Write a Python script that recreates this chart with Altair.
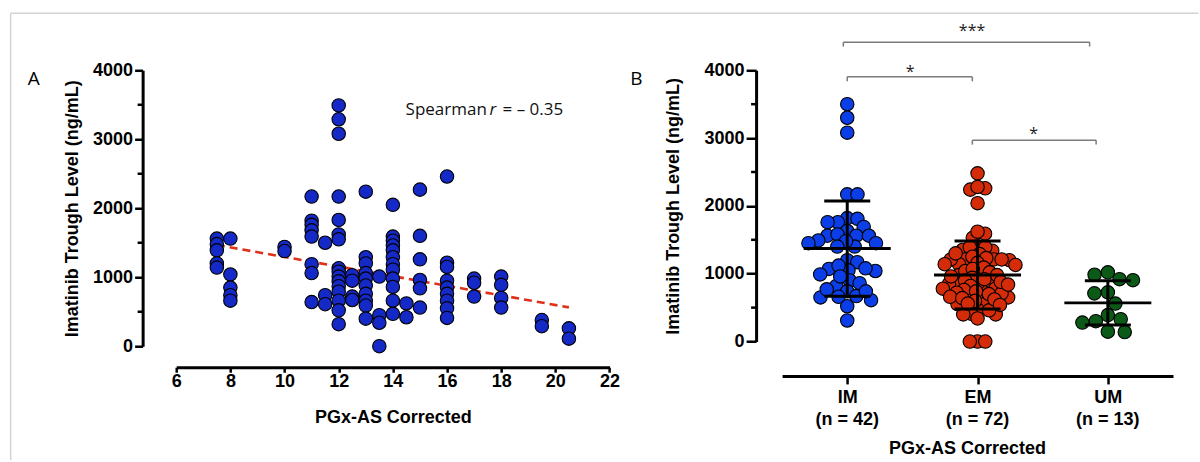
import math
import altair as alt
import pandas as pd

FONT = "Liberation Sans"
TXT = "Open Sans"

# ---------------- Panel A: PGx-AS score vs. trough level ----------------
score_cols = [7.5, 8, 10, 11, 11.5, 12, 12.5, 13, 13.5, 14, 14.5, 15, 16, 17, 18, 19.5, 20.5]
levels_by_score = [
    [1560, 1480, 1390, 1200, 1140],
    [1560, 1040, 850, 740, 660],
    [1440, 1380],
    [2170, 1820, 1760, 1680, 1590, 1190, 1060, 640],
    [1500, 740, 610],
    [3490, 3290, 3080, 2170, 1830, 1620, 1550, 1130, 1080, 1010, 940, 870, 790, 660, 520, 320],
    [1030, 950, 720, 670],
    [2240, 1290, 1200, 1060, 980, 880, 760, 660, 590, 400],
    [1010, 450, 340, 0],
    [2050, 1590, 1530, 1460, 1390, 1290, 1190, 1110, 980, 860, 660, 470],
    [620, 420],
    [2270, 1600, 1260, 960, 840, 560],
    [2460, 1210, 1150, 950, 850, 760, 660, 550, 410],
    [980, 920, 720],
    [1010, 890, 700, 560],
    [380, 290],
    [260, 110],
]
fit_x = [7.5, 20.5]
fit_y = [1468, 563]
spearman_text = ["Spearman", "r", "= \u2013 0.35"]

# ---------------- Panel B: phenotype groups ----------------
groups = ["IM", "EM", "UM"]
im_levels = [3500, 3300, 3080, 2170, 2170, 1820, 1810, 1760, 1760, 1630, 1690,
             1560, 1560, 1560, 1580, 1450, 1400, 1480, 1490, 1400, 1450, 1200,
             1170, 1070, 1040, 990, 1050, 1080, 900, 820, 860, 740, 670, 650,
             610, 660, 740, 770, 520, 310, 1120, 960]
em_levels = [2480, 2260, 2240, 2280, 2040, 1590, 1530, 1620, 1350, 1400, 1390,
             1340, 1390, 1210, 1290, 1210, 1250, 1140, 1200, 1210, 1210, 1140,
             1000, 980, 1040, 850, 780, 860, 880, 780, 850, 680, 650, 660, 710,
             560, 470, 410, 400, 340, 400, 460, 550, 0, 0, 0,
             1300, 1230, 1160, 1130, 1090, 1070, 1020, 980, 960, 940, 920, 900,
             880, 840, 820, 780, 760, 740, 720, 700, 660, 640, 620, 600, 560, 540]
um_levels = [1020, 985, 920, 905, 725, 710, 560, 390, 330, 300, 280, 145, 140]
group_colors = ["#0b3ee6", "#d42b08", "#0b5a18"]

# significance brackets (group units / ng/mL)
br_left = [0.97, 1.0, 1.96]
br_right = [2.86, 1.96, 2.91]
br_height = [4415, 3903, 2969]
br_label = ["***", "*", "*"]
br_label_x = [1.958, 1.482, 2.43]
br_label_y = [4499, 3897, 2987]

y_ticks = [0, 1000, 2000, 3000, 4000]
y_minor = [500, 1500, 2500, 3500]
x_ticks_a = [6, 8, 10, 12, 14, 16, 18, 20, 22]

# ---------------- layout ----------------
A_W, A_H = 433.4, 276
B_W, B_H = 391, 271.3
A_YOFF, A_XOFF = 33.6, 21
B_YOFF, B_XOFF = 26, 34.4
DOT = 180

axis_style = dict(
    labelFont=FONT, labelFontWeight="bold", labelFontSize=18, labelColor="black",
    titleFont=FONT, titleFontWeight="bold", titleFontSize=18, titleColor="black",
    domainColor="black", domainWidth=3, tickColor="black", tickWidth=2.5,
    grid=False, labelFlush=False, labelOverlap=False,
)

ax_a_x = alt.Axis(values=x_ticks_a, format="d", title="PGx-AS Corrected",
                  offset=A_XOFF, tickSize=5, labelPadding=0,
                  titleY=50, titleBaseline="middle", **axis_style)
ax_a_y = alt.Axis(values=y_ticks, format="d", title="Imatinib Trough Level (ng/mL)",
                  offset=A_YOFF, tickSize=8, labelPadding=2,
                  titleX=-70, titleBaseline="middle", **axis_style)
sx_a = alt.Scale(domain=[6, 22], nice=False, zero=False)
sy = alt.Scale(domain=[0, 4000], nice=False)


def XA(f):
    return alt.X(f, type="quantitative", scale=sx_a, axis=ax_a_x)


def YA(f):
    return alt.Y(f, type="quantitative", scale=sy, axis=ax_a_y)


rows = [(s, v) for s, vs in zip(score_cols, levels_by_score) for v in vs]
df_a = pd.DataFrame(rows, columns=["x", "y"])
df_fit = pd.DataFrame({"x": fit_x, "y": fit_y})
one = pd.DataFrame({"k": [0]})

border_color = "#d3d3d3"
border_left = alt.Chart(one).mark_rule(color=border_color, strokeWidth=1.5).encode(
    x=alt.value(10 - 175.6), y=alt.value(13 - 70), y2=alt.value(460 - 70))
border_top = alt.Chart(one).mark_rule(color=border_color, strokeWidth=1.5).encode(
    x=alt.value(10 - 175.6), x2=alt.value(1198 - 175.6), y=alt.value(13 - 70))

fit = alt.Chart(df_fit).mark_line(color="#e0301a", strokeWidth=2.6, strokeDash=[8, 5]).encode(
    x=XA("x"), y=YA("y"))
pts_a = alt.Chart(df_a).mark_point(shape="circle", filled=True, size=DOT, opacity=1,
                                   fill="#1529c6", stroke="black", strokeWidth=1.1).encode(
    x=XA("x"), y=YA("y"))

sp_anchor = pd.DataFrame({"x": [14.47], "y": [3358]})
sp_layers = []
for txt, dx, style in zip(spearman_text, [0, 84, 97], ["normal", "italic", "normal"]):
    sp_layers.append(
        alt.Chart(sp_anchor).mark_text(text=txt, align="left", baseline="alphabetic",
                                       dx=dx, font=TXT, fontSize=17, fontStyle=style,
                                       color="#111").encode(x=XA("x"), y=YA("y")))

minor_a = alt.Chart(pd.DataFrame({"y": y_minor})).mark_rule(color="black", strokeWidth=2.5).encode(
    y=YA("y"), x=alt.value(-A_YOFF), x2=alt.value(-A_YOFF - 5))

label_a = alt.Chart(one).mark_text(text="A", font=TXT, fontSize=19, align="center",
                                   baseline="alphabetic", color="black").encode(
    x=alt.value(33 - 175.6), y=alt.value(85 - 70))

panel_a = alt.layer(border_left, border_top, fit, pts_a, *sp_layers, minor_a, label_a).properties(
    width=A_W, height=A_H)

# ---------------- Panel B ----------------
PX_PER_GROUP = B_W / 3.0


def swarm(values, diam):
    ypx = [v * B_H / 4000.0 for v in values]
    order = sorted(range(len(values)), key=lambda i: -values[i])
    placed, out = [], [0.0] * len(values)
    for n, i in enumerate(order):
        y = ypx[i]
        forb = []
        for px, py in placed:
            dy = abs(py - y)
            if dy < diam:
                w = math.sqrt(diam * diam - dy * dy)
                forb.append((px - w, px + w))
        sign = 1 if n % 2 == 0 else -1
        cands = [0.0] + [a for a, _ in forb] + [b for _, b in forb]
        cands.sort(key=lambda c: (round(abs(c), 6), -sign * c))
        x = 0.0
        for c in cands:
            if all(not (a + 1e-6 < c < b - 1e-6) for a, b in forb):
                x = c
                break
        placed.append((x, y))
        out[i] = x
    return out


def fit_swarm(values, limit):
    d = 13.5
    while d > 4:
        offs = swarm(values, d)
        if max(abs(o) for o in offs) <= limit:
            return offs
        d -= 0.25
    return offs


level_sets = [im_levels, em_levels, um_levels]
recs = []
for gi, (g, vals) in enumerate(zip(groups, level_sets), start=1):
    offs = fit_swarm(vals, 39)
    for v, o in zip(vals, offs):
        recs.append({"group": g, "x": gi + o / PX_PER_GROUP, "y": v})
df_b = pd.DataFrame(recs)

stats = []
for gi, (g, vals) in enumerate(zip(groups, level_sets), start=1):
    s = pd.Series(vals)
    m, sd = s.mean(), s.std(ddof=1)
    stats.append({"g": gi, "mean": m, "lo": m - sd, "hi": m + sd,
                  "ml": gi - 43.5 / PX_PER_GROUP, "mr": gi + 43.5 / PX_PER_GROUP,
                  "cl": gi - 23 / PX_PER_GROUP, "cr": gi + 23 / PX_PER_GROUP})
df_s = pd.DataFrame(stats)

label_expr = "[" + ",".join("'%s'" % g for g in groups) + "][datum.value - 1]"
df_n = pd.DataFrame({"x": [1, 2, 3], "label": ["(n = %d)" % len(v) for v in level_sets]})

ax_b_x = alt.Axis(values=[1, 2, 3], labelExpr=label_expr,
                  title="PGx-AS Corrected", offset=B_XOFF, tickSize=8, labelPadding=5,
                  titleX=185, titleY=72.3, titleBaseline="middle", **axis_style)
ax_b_y = alt.Axis(values=y_ticks, format="d", title="Imatinib Trough Level (ng/mL)",
                  offset=B_YOFF, tickSize=10, labelPadding=2,
                  titleX=-83, titleBaseline="middle", **axis_style)
sx_b = alt.Scale(domain=[0.5, 3.5], nice=False, zero=False)


def XB(f):
    return alt.X(f, type="quantitative", scale=sx_b, axis=ax_b_x)


def YB(f):
    return alt.Y(f, type="quantitative", scale=sy, axis=ax_b_y)


df_br = pd.DataFrame({"l": br_left, "r": br_right, "y": br_height, "label": br_label,
                      "tx": br_label_x, "ty": br_label_y})
df_br["drop"] = df_br["y"] - 65
bracket_color = "#7b7b7b"
br_h = alt.Chart(df_br).mark_rule(color=bracket_color, strokeWidth=1.5).encode(
    x=XB("l"), x2="r", y=YB("y"))
br_tl = alt.Chart(df_br).mark_rule(color=bracket_color, strokeWidth=1.5).encode(
    x=XB("l"), y=YB("y"), y2="drop")
br_tr = alt.Chart(df_br).mark_rule(color=bracket_color, strokeWidth=1.5).encode(
    x=XB("r"), y=YB("y"), y2="drop")
br_txt = alt.Chart(df_br).mark_text(font=TXT, fontSize=16, baseline="alphabetic",
                                    align="center", color="#222").encode(
    x=XB("tx"), y=YB("ty"), text="label")

pts_b = alt.Chart(df_b).mark_point(shape="circle", filled=True, size=DOT, opacity=1,
                                   stroke="black", strokeWidth=1.1).encode(
    x=XB("x"), y=YB("y"),
    fill=alt.Fill("group:N", scale=alt.Scale(domain=groups, range=group_colors), legend=None))

bar_style = dict(color="black", strokeWidth=3)
mean_line = alt.Chart(df_s).mark_rule(**bar_style).encode(x=XB("ml"), x2="mr", y=YB("mean"))
cap_hi = alt.Chart(df_s).mark_rule(**bar_style).encode(x=XB("cl"), x2="cr", y=YB("hi"))
cap_lo = alt.Chart(df_s).mark_rule(**bar_style).encode(x=XB("cl"), x2="cr", y=YB("lo"))
sd_bar = alt.Chart(df_s).mark_rule(**bar_style).encode(x=XB("g"), y=YB("lo"), y2="hi")

# sample-size line under each group label
n_txt = alt.Chart(df_n).mark_text(font=FONT, fontWeight="bold", fontSize=18, align="center",
                                  baseline="middle", color="black").encode(
    x=XB("x"), y=alt.value(419.5 - 70), text="label")

minor_b = alt.Chart(pd.DataFrame({"y": y_minor})).mark_rule(color="black", strokeWidth=2.5).encode(
    y=YB("y"), x=alt.value(-B_YOFF), x2=alt.value(-B_YOFF - 5))

label_b = alt.Chart(one).mark_text(text="B", font=TXT, fontSize=19, align="center",
                                   baseline="alphabetic", color="black").encode(
    x=alt.value(635.3 - 781), y=alt.value(85 - 70))

panel_b = alt.layer(br_h, br_tl, br_tr, br_txt, pts_b, mean_line, cap_hi, cap_lo, sd_bar,
                    n_txt, minor_b, label_b).properties(width=B_W, height=B_H)

chart = alt.hconcat(panel_a, panel_b, spacing=781 - 175.6 - A_W, bounds="flush").properties(
    padding={"left": 9.25, "top": 12.25, "right": 0, "bottom": 0},
    background="white",
).configure_view(stroke=None)

chart.save("out.html", embed_options={"renderer": "svg", "actions": False})
